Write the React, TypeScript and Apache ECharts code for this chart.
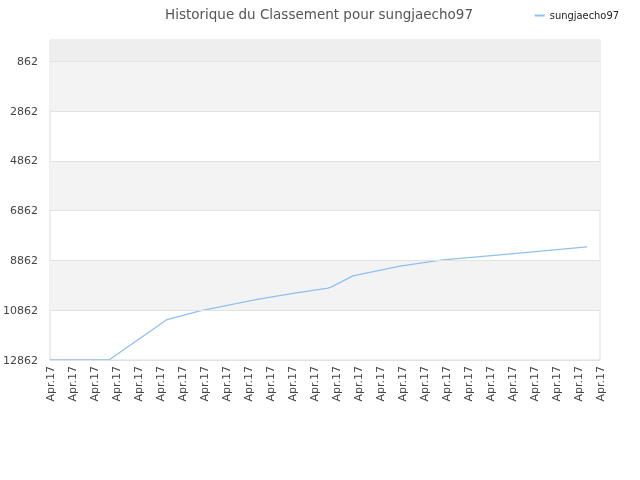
import React, { useEffect, useRef } from "react";
import * as echarts from "echarts";

const xLabels: string[] = Array.from({ length: 26 }, () => "Apr.17");
const pointPos: number[] = [0, 2.68, 5.32, 6.82, 9.55, 11.05, 12.64, 12.77, 13.77, 15.9, 17.86, 20.45, 24.41];
const rankValues: number[] = [12862, 12862, 11236, 10883, 10402, 10185, 9972, 9932, 9479, 9090, 8837, 8636, 8315];
const yTicks: number[] = [862, 2862, 4862, 6862, 8862, 10862, 12862];
const bandRanges: [number, number, string][] = [
  [0, 862, "#eeeeee"],
  [862, 2862, "#f3f3f3"],
  [4862, 6862, "#f3f3f3"],
  [8862, 10862, "#f3f3f3"],
];

export default function App() {
  const ref = useRef<HTMLDivElement>(null);
  useEffect(() => {
    if (!ref.current) return;
    const chart = echarts.init(ref.current, null, { renderer: "svg" });
    chart.setOption({
      animation: false,
      title: {
        text: "Historique du Classement pour sungjaecho97",
        left: 314,
        textAlign: "center",
        top: 2,
        textStyle: { fontFamily: "DejaVu Sans", fontSize: 13.5, fontWeight: "normal", color: "#555" },
      },
      legend: {
        right: 16,
        top: 5,
        itemWidth: 10,
        itemHeight: 2,
        itemGap: 6,
        icon: "rect",
        textStyle: { fontFamily: "DejaVu Sans Condensed", fontSize: 11, color: "#222" },
        data: ["sungjaecho97"],
      },
      grid: {
        left: 50, right: 40, top: 40, bottom: 120,
        show: true, borderColor: "#dddddd", borderWidth: 1, backgroundColor: "#fff",
      },
      xAxis: {
        type: "value",
        min: 0,
        max: 25,
        interval: 1,
        axisLine: { show: false },
        axisTick: { show: false },
        splitLine: { show: false },
        axisLabel: {
          rotate: 90,
          fontFamily: "DejaVu Sans",
          fontSize: 11,
          color: "#444",
          margin: 6,
          formatter: (v: number) => xLabels[Math.round(v)] ?? "",
        },
      },
      yAxis: {
        type: "value",
        inverse: true,
        min: 0,
        max: 12862,
        axisLine: { show: false },
        axisTick: { show: false },
        splitLine: { show: false },
        axisLabel: {
          customValues: yTicks,
          fontFamily: "DejaVu Sans",
          fontSize: 11,
          color: "#444",
          margin: 12,
          formatter: (v: number) => String(v),
        },
      },
      series: [
        {
          name: "sungjaecho97",
          type: "line",
          data: pointPos.map((x, i) => [x, rankValues[i]]),
          showSymbol: false,
          symbol: "none",
          lineStyle: { color: "#8fc0f3", width: 1.3 },
          itemStyle: { color: "#8fc0f3" },
          markArea: {
            silent: true,
            data: bandRanges.map(([a, b, c]) => [
              { yAxis: a, itemStyle: { color: c } },
              { yAxis: b },
            ]),
          },
          markLine: {
            silent: true,
            symbol: "none",
            label: { show: false },
            lineStyle: { color: "#e2e2e2", width: 1, type: "solid" },
            data: yTicks.map((v) => ({ yAxis: v })),
          },
          z: 3,
        },
      ],
    });
    return () => chart.dispose();
  }, []);
  return <div ref={ref} style={{ position: "fixed", left: 0, top: 0, width: 640, height: 480 }} />;
}
